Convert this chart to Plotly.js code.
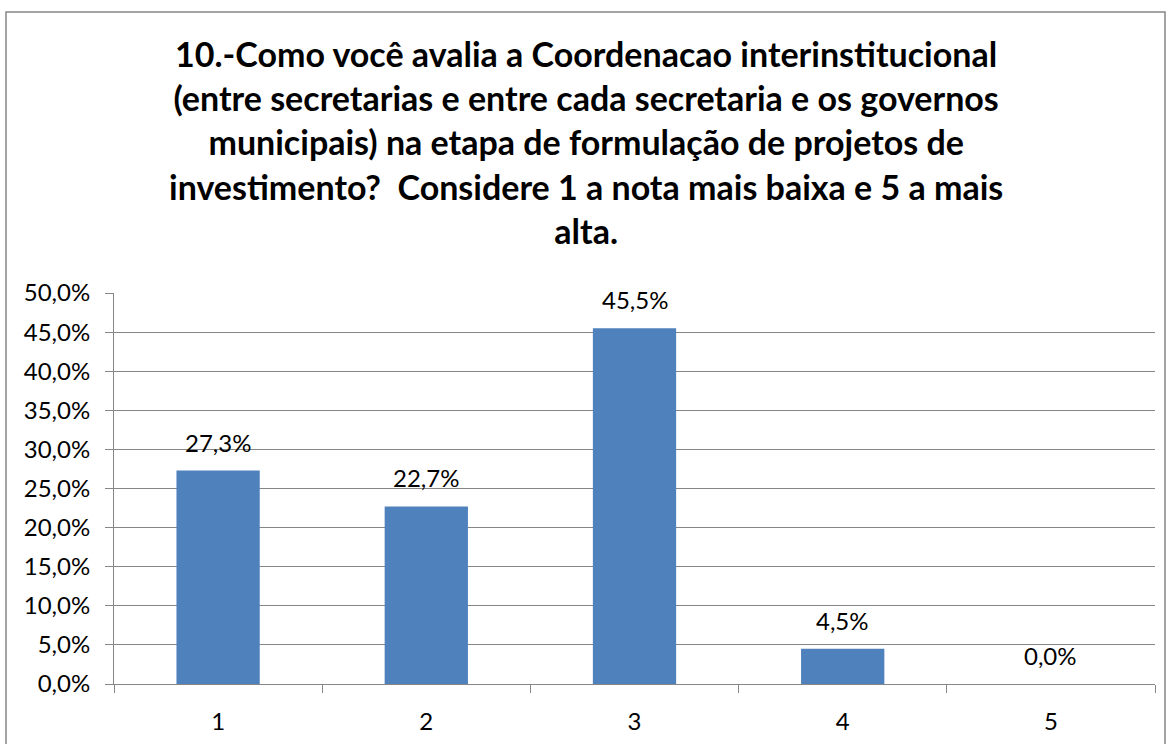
<!DOCTYPE html>
<html><head><meta charset="utf-8">
<script src="https://cdn.plot.ly/plotly-3.0.1.min.js"></script>
<style>html,body{margin:0;padding:0;background:#fff}#c{width:1171px;height:744px}</style>
</head><body><div id="c"></div>
<script>
const categories = ['1','2','3','4','5'];
const values = [27.3, 22.7, 45.5, 4.5, 0.0];
const titleText = '10.-Como você avalia a Coordenacao interinstitucional<br>(entre secretarias e entre cada secretaria e os governos<br>municipais) na etapa de formulação de projetos de<br>investimento?  Considere 1 a nota mais baixa e 5 a mais<br>alta.';

const W = 1171, H = 744;
const L = 114, R = 16, T = 293, B = 60;
const pw = W - L - R, ph = H - T - B;
function px(x){return (x - L)/pw;}
function py(y){return (H - B - y)/ph;}
const FONT = 'Lato, "Open Sans", sans-serif';

const data = [{
  type: 'bar', x: categories, y: values,
  marker: {color: '#4F81BD'},
  hoverinfo: 'none'
}];
const labelAnns = categories.map((c, i) => ({
  x: i, y: values[i], xref: 'x', yref: 'y',
  text: values[i].toFixed(1).replace('.', ',') + '%',
  showarrow: false, yanchor: 'bottom', yshift: 12,
  font: {family: FONT, size: 24, color: '#000'}
}));
const layout = {
  width: W, height: H,
  margin: {l: L, r: R, t: T, b: B, pad: 0},
  paper_bgcolor: '#fff', plot_bgcolor: '#fff',
  separators: ',.',
  showlegend: false,
  bargap: 0.6,
  font: {family: FONT, size: 24, color: '#000'},
  xaxis: {
    type: 'category', range: [-0.5, 4.5], showgrid: false, showline: true, linecolor: '#868686', linewidth: 1,
    ticks: 'outside', tickson: 'boundaries', ticklen: 8, tickcolor: '#868686',
    tickfont: {family: FONT, size: 24}, ticklabelstandoff: 16, fixedrange: true
  },
  yaxis: {
    range: [0, 50], dtick: 5, tickformat: '.1f', ticksuffix: '%',
    showgrid: true, gridcolor: '#868686', gridwidth: 1,
    showline: true, linecolor: '#868686', linewidth: 1,
    ticks: 'outside', ticklen: 8, tickcolor: '#868686',
    tickfont: {family: FONT, size: 24}, ticklabelstandoff: 10, zeroline: false, fixedrange: true
  },
  annotations: [{
    text: titleText, xref: 'paper', yref: 'paper',
    x: px(585.5), y: py(31), xanchor: 'center', yanchor: 'top', showarrow: false,
    align: 'center',
    font: {family: FONT, size: 34, color: '#000', weight: 'bold'}
  }].concat(labelAnns),
  shapes: [{
    type: 'rect', xref: 'paper', yref: 'paper',
    x0: px(6), x1: px(1165), y0: py(760), y1: py(12),
    line: {color: '#868686', width: 1.5}, fillcolor: 'rgba(0,0,0,0)', layer: 'below'
  }]
};
Plotly.newPlot('c', data, layout, {displayModeBar: false, staticPlot: true});
</script></body></html>
